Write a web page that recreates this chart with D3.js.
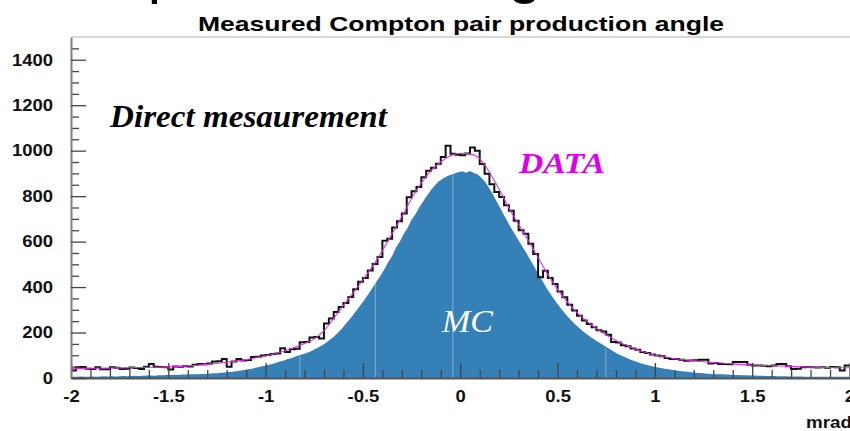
<!DOCTYPE html>
<html>
<head>
<meta charset="utf-8">
<script src="https://cdn.jsdelivr.net/npm/d3@7"></script>
<style>
  html, body { margin: 0; padding: 0; background: #fff; }
  svg { display: block; }
</style>
</head>
<body>
<svg id="chart" width="850" height="431"></svg>
<script>
// Pair production angle histograms, range in mrad
const ANGLE_MIN = -2;
const ANGLE_MAX = 2;

// Measured events per bin (160 bins of 0.025 mrad)
const DATA_COUNTS = [
  33, 47, 48, 41, 40, 47, 39, 38, 47, 45,
  40, 41, 46, 44, 40, 49, 62, 50, 48, 47,
  37, 51, 50, 52, 51, 58, 62, 61, 64, 73,
  74, 84, 50, 73, 84, 77, 79, 92, 93, 99,
  101, 106, 108, 131, 114, 127, 129, 157, 158, 178,
  180, 174, 240, 262, 290, 312, 330, 356, 390, 423,
  440, 473, 502, 532, 604, 612, 662, 690, 724, 795,
  822, 840, 883, 912, 925, 942, 972, 1022, 986, 982,
  980, 988, 1014, 1000, 941, 898, 852, 818, 796, 760,
  736, 692, 650, 634, 590, 545, 443, 472, 440, 414,
  380, 355, 322, 297, 274, 253, 238, 223, 210, 205,
  190, 158, 156, 144, 140, 130, 124, 114, 110, 103,
  99, 96, 88, 84, 84, 80, 76, 77, 78, 80,
  80, 64, 66, 62, 62, 60, 70, 70, 70, 58,
  55, 55, 54, 52, 55, 62, 62, 52, 40, 41,
  47, 48, 47, 46, 47, 45, 48, 47, 33, 55
];

// Simulated events per bin (200 bins of 0.02 mrad)
const MC_COUNTS = [
  6, 5, 7, 6, 6,   7, 6, 7, 8, 7,
  8, 7, 8, 9, 8,   9, 10, 9, 10, 11,
  11, 10, 12, 12, 13,   13, 14, 13, 15, 15,
  16, 16, 17, 18, 18,   19, 21, 21, 23, 24,
  26, 28, 30, 33, 35,   38, 41, 45, 49, 53,
  57, 61, 66, 71, 76,   82, 87, 93, 99, 104,
  110, 117, 125, 134, 143,   155, 168, 182, 198, 215,
  236, 256, 278, 300, 323,   346, 372, 398, 424, 450,
  478, 510, 537, 574, 600,   634, 661, 697, 720, 752,
  778, 803, 827, 848, 866,   876, 886, 894, 900, 905,
  909, 903, 911, 902, 895,   880, 860, 834, 804, 772,
  740, 708, 676, 648, 619,   591, 563, 535, 505, 475,
  446, 416, 387, 362, 337,   314, 293, 272, 254, 236,
  221, 206, 192, 180, 168,   158, 147, 136, 126, 116,
  106, 98, 90, 82, 76,   70, 64, 59, 55, 51,
  47, 44, 41, 38, 35,   33, 31, 29, 27, 25,
  23, 22, 21, 19, 18,   17, 16, 16, 15, 14,
  13, 13, 12, 12, 11,   11, 10, 10, 9, 9,
  9, 8, 8, 8, 7,   7, 7, 7, 6, 6,
  6, 6, 6, 5, 6,   5, 5, 6, 5, 5
];

// Fitted curve through the measured distribution
const FIT_ANGLE = [
  -2, -1.9, -1.8, -1.7, -1.6, -1.5, -1.4, -1.3, -1.2, -1.1, -1,
  -0.95, -0.9, -0.85, -0.8, -0.75, -0.7, -0.65, -0.6, -0.55, -0.5,
  -0.45, -0.4, -0.35, -0.3, -0.25, -0.2, -0.15, -0.1, -0.05, 0,
  0.05, 0.1, 0.15, 0.2, 0.25, 0.3, 0.35, 0.4, 0.45, 0.5,
  0.55, 0.6, 0.65, 0.7, 0.75, 0.8, 0.85, 0.9, 0.95,
  1, 1.1, 1.2, 1.3, 1.4, 1.5, 1.6, 1.7, 1.8, 1.9, 2
];
const FIT_COUNT = [
  42, 43, 44, 45, 47, 49, 53, 60, 69, 81, 98,
  108, 120, 135, 152, 172, 208, 262, 320, 375, 432,
  492, 560, 635, 710, 790, 858, 912, 950, 978, 988,
  985, 965, 905, 830, 748, 675, 605, 530, 455, 390,
  335, 288, 250, 218, 190, 165, 145, 128, 113,
  101, 86, 76, 68, 62, 57, 54, 51, 48, 46, 45
];

// Axis ticks
const X_TICKS = [-2, -1.5, -1, -0.5, 0, 0.5, 1, 1.5, 2];
const Y_TICKS = [0, 200, 400, 600, 800, 1000, 1200, 1400];
const Y_MAX = 1500;

// Angles where the filled MC histogram shows thin light joins
const FILL_SEAMS = [-0.824, -0.436, -0.038, 0.748];

// ---------------------------------------------------------------
const W = 850, H = 431;
const plot = { left: 71, right: 849.5, top: 37, bottom: 378 };
const SANS = "'Liberation Sans', Arial, Helvetica, sans-serif";
const SERIF = "'Liberation Serif', 'Times New Roman', Times, serif";

const svg = d3.select("#chart");

const x = d3.scaleLinear().domain([ANGLE_MIN, ANGLE_MAX]).range([plot.left, plot.right]);
const y = d3.scaleLinear().domain([0, Y_MAX]).range([plot.bottom, plot.top]);

svg.append("defs").append("clipPath").attr("id", "plotClip")
  .append("rect")
  .attr("x", plot.left).attr("y", plot.top - 2)
  .attr("width", W - plot.left).attr("height", plot.bottom - plot.top + 2);

// Turn per-bin counts into step points at the bin edges
function toSteps(counts) {
  const w = (ANGLE_MAX - ANGLE_MIN) / counts.length;
  const pts = counts.map((c, i) => ({ a: ANGLE_MIN + i * w, c }));
  pts.push({ a: ANGLE_MAX, c: counts[counts.length - 1] });
  return pts;
}

// Bin centres, padded out to the range edges (fine-binned fill)
function toCentres(counts) {
  const w = (ANGLE_MAX - ANGLE_MIN) / counts.length;
  const pts = counts.map((c, i) => ({ a: ANGLE_MIN + (i + 0.5) * w, c }));
  pts.unshift({ a: ANGLE_MIN, c: counts[0] });
  pts.push({ a: ANGLE_MAX, c: counts[counts.length - 1] });
  return pts;
}

const g = svg.append("g").attr("clip-path", "url(#plotClip)");

// Simulated distribution, filled
const mcBinW = (ANGLE_MAX - ANGLE_MIN) / MC_COUNTS.length;
g.append("path")
  .datum(toCentres(MC_COUNTS))
  .attr("fill", "#3580b6")
  .attr("stroke", "none")
  .attr("d", d3.area().curve(d3.curveLinear)
    .x(d => x(d.a)).y0(y(0)).y1(d => y(d.c)));

// Light joins inside the fill
g.selectAll("line.seam")
  .data(FILL_SEAMS)
  .join("line")
  .attr("class", "seam")
  .attr("x1", d => x(d)).attr("x2", d => x(d))
  .attr("y1", y(0))
  .attr("y2", d => y(MC_COUNTS[Math.floor((d - ANGLE_MIN) / mcBinW)]) + 1)
  .attr("stroke", "rgba(255,255,255,0.35)")
  .attr("stroke-width", 1);

// Measured distribution, step outline
g.append("path")
  .datum(toSteps(DATA_COUNTS))
  .attr("fill", "none")
  .attr("stroke", "#111")
  .attr("stroke-width", 2)
  .attr("d", d3.line().curve(d3.curveStepAfter).x(d => x(d.a)).y(d => y(d.c)));

// Fit curve
g.append("path")
  .datum(FIT_ANGLE.map((a, i) => ({ a, c: FIT_COUNT[i] })))
  .attr("fill", "none")
  .attr("stroke", "#e030e8")
  .attr("stroke-width", 1.1)
  .attr("d", d3.line().curve(d3.curveMonotoneX).x(d => x(d.a)).y(d => y(d.c)));

// Frame top edge
svg.append("line")
  .attr("x1", plot.left).attr("x2", W)
  .attr("y1", plot.top).attr("y2", plot.top)
  .attr("stroke", "#b0b0b0").attr("stroke-width", 1);

// Minor ticks
const xMinor = d3.range(-20, 21).map(i => i / 10).filter(v => !X_TICKS.includes(v));
const yMinor = d3.range(0, Y_MAX, 50).filter(v => !Y_TICKS.includes(v));

const xMinorAxis = svg.append("g")
  .attr("transform", `translate(0,${plot.bottom})`)
  .call(d3.axisBottom(x).tickValues(xMinor).tickSizeInner(-8).tickSizeOuter(0).tickFormat(""));
xMinorAxis.select(".domain").remove();

const yMinorAxis = svg.append("g")
  .attr("transform", `translate(${plot.left},0)`)
  .call(d3.axisLeft(y).tickValues(yMinor).tickSizeInner(-8).tickSizeOuter(0).tickFormat(""));
yMinorAxis.select(".domain").remove();

// Major ticks with labels
const xAxis = svg.append("g")
  .attr("transform", `translate(0,${plot.bottom})`)
  .call(d3.axisBottom(x).tickValues(X_TICKS).tickSizeInner(-15).tickSizeOuter(0)
    .tickPadding(12).tickFormat(d => String(d)));

const yAxis = svg.append("g")
  .attr("transform", `translate(${plot.left},0)`)
  .call(d3.axisLeft(y).tickValues(Y_TICKS).tickSizeInner(-15).tickSizeOuter(0)
    .tickPadding(16).tickFormat(d => String(d)));

[xAxis, yAxis, xMinorAxis, yMinorAxis].forEach(ax => {
  ax.selectAll(".tick line").attr("stroke", "#444").attr("stroke-width", 1.3);
});
xAxis.select(".domain").attr("stroke", "#555").attr("stroke-width", 2);
yAxis.select(".domain").attr("stroke", "#808080").attr("stroke-width", 2);
[xAxis, yAxis].forEach(ax => {
  ax.selectAll(".tick text")
    .attr("fill", "#111")
    .style("font", `bold 16.5px ${SANS}`)
    .attr("transform", "scale(1.12,1)");
});

// Axis unit
svg.append("text")
  .attr("x", 806).attr("y", 428)
  .attr("textLength", 46).attr("lengthAdjust", "spacingAndGlyphs")
  .style("font", `bold 16.5px ${SANS}`).attr("fill", "#111")
  .text("mrad");

// Titles
svg.append("text")
  .attr("x", 21).attr("y", -8)
  .style("font", `60px ${SANS}`).attr("fill", "#000")
  .text("Compton scattering");

svg.append("text")
  .attr("x", 461).attr("y", 30.5).attr("text-anchor", "middle")
  .attr("textLength", 526).attr("lengthAdjust", "spacingAndGlyphs")
  .style("font", `bold 20.5px ${SANS}`).attr("fill", "#000")
  .text("Measured Compton pair production angle");

// In-plot labels
svg.append("text")
  .attr("x", 110).attr("y", 127)
  .attr("textLength", 277).attr("lengthAdjust", "spacingAndGlyphs")
  .style("font", `italic bold 31px ${SERIF}`).attr("fill", "#000")
  .text("Direct mesaurement");

svg.append("text")
  .attr("x", 519).attr("y", 173)
  .attr("textLength", 86).attr("lengthAdjust", "spacingAndGlyphs")
  .style("font", `italic bold 30px ${SERIF}`).attr("fill", "#dd00ee")
  .text("DATA");

svg.append("text")
  .attr("x", 442).attr("y", 331.5)
  .attr("textLength", 51).attr("lengthAdjust", "spacingAndGlyphs")
  .style("font", `italic 31px ${SERIF}`).attr("fill", "#fff")
  .text("MC");
</script>
</body>
</html>
